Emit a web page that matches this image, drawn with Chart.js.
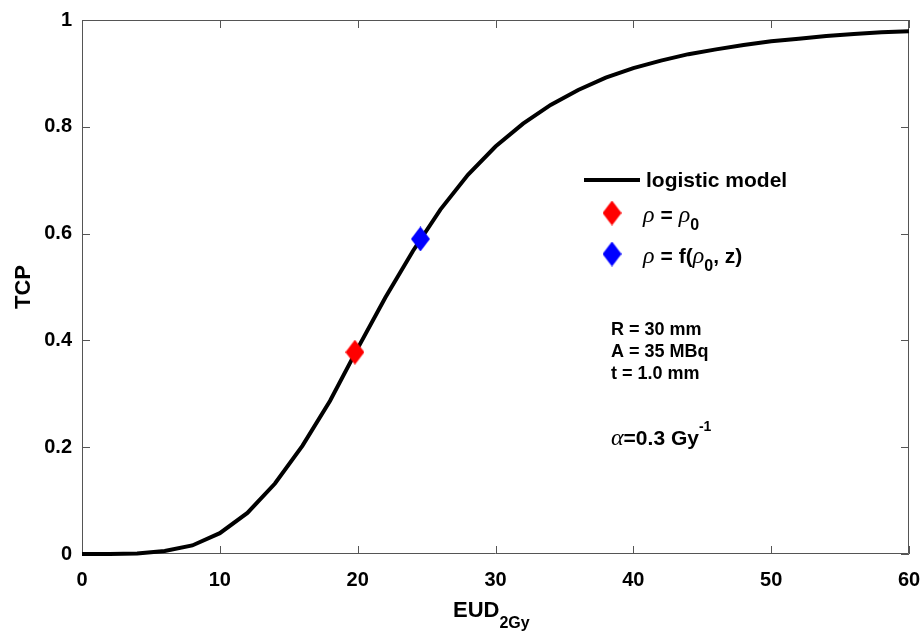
<!DOCTYPE html>
<html>
<head>
<meta charset="utf-8">
<script src="https://cdn.jsdelivr.net/npm/chart.js@4"></script>
<style>
body { margin: 0; background: #fff; }
#wrap { width: 923px; height: 631px; }
</style>
</head>
<body>
<div id="wrap"><canvas id="tcpChart" width="923" height="631"></canvas></div>
<script>
// logistic model curve
var eud = [0, 2, 4, 6, 8, 10, 12, 14, 16, 18, 20, 22, 24, 26, 28, 30, 32, 34, 36, 38, 40, 42, 44, 46, 48, 50, 52, 54, 56, 58, 60];
var tcp = [0, 0.0001, 0.0011, 0.0055, 0.016, 0.039, 0.077, 0.132, 0.203, 0.287, 0.385, 0.480, 0.567, 0.645, 0.710, 0.763, 0.806, 0.841, 0.869, 0.892, 0.910, 0.924, 0.936, 0.945, 0.953, 0.960, 0.965, 0.970, 0.974, 0.977, 0.979];

// the two marked points
var rho0X = [19.8];
var rho0Y = [0.378];
var rhoFX = [24.55];
var rhoFY = [0.590];

var xTicks = [0, 10, 20, 30, 40, 50, 60];
var yTicks = [0, 0.2, 0.4, 0.6, 0.8, 1];

var FONT = '"Liberation Sans", Arial, sans-serif';
var GREEK = '"Liberation Serif", "Times New Roman", serif';

function makeDiamond(color, w, h) {
	var c = document.createElement('canvas');
	c.width = w;
	c.height = h;
	var g = c.getContext('2d');
	g.fillStyle = color;
	g.beginPath();
	g.moveTo(w / 2, 0);
	g.lineTo(w, h / 2);
	g.lineTo(w / 2, h);
	g.lineTo(0, h / 2);
	g.closePath();
	g.fill();
	return c;
}

var redDiamond = makeDiamond('#ff0000', 19, 25);
var blueDiamond = makeDiamond('#0000ff', 19, 25);

// draws pieces of text one after another, returns the x where it ended
function drawRun(ctx, x, baseline, parts) {
	for (var i = 0; i < parts.length; i++) {
		var p = parts[i];
		ctx.font = p.font;
		ctx.fillText(p.t, x, baseline + (p.dy || 0));
		x += ctx.measureText(p.t).width + (p.gap || 0);
	}
	return x;
}

var boxPlugin = {
	id: 'boxPlugin',
	beforeDatasetsDraw: function(chart) {
		var ctx = chart.ctx;
		var ca = chart.chartArea;
		var xs = chart.scales.x;
		var ys = chart.scales.y;
		var len = 8;
		ctx.save();
		ctx.strokeStyle = '#555';
		ctx.lineWidth = 1;
		ctx.beginPath();
		ctx.rect(ca.left + 0.5, ca.top + 0.5, ca.right - ca.left - 1, ca.bottom - ca.top - 1);
		ctx.stroke();
		ctx.beginPath();
		xs.ticks.forEach(function(t) {
			var px = Math.round(xs.getPixelForValue(t.value)) + 0.5;
			ctx.moveTo(px, ca.bottom);
			ctx.lineTo(px, ca.bottom - len);
			ctx.moveTo(px, ca.top);
			ctx.lineTo(px, ca.top + len);
		});
		ys.ticks.forEach(function(t) {
			var py = Math.round(ys.getPixelForValue(t.value)) + 0.5;
			ctx.moveTo(ca.left, py);
			ctx.lineTo(ca.left + len, py);
			ctx.moveTo(ca.right, py);
			ctx.lineTo(ca.right - len, py);
		});
		ctx.stroke();
		ctx.restore();
	},
	afterDraw: function(chart) {
		var ctx = chart.ctx;
		var ca = chart.chartArea;
		ctx.save();
		ctx.fillStyle = '#000';
		ctx.textBaseline = 'alphabetic';
		ctx.textAlign = 'left';

		// axis titles
		drawRun(ctx, 453, 617, [
			{ t: 'EUD', font: 'bold 22px ' + FONT },
			{ t: '2Gy', font: 'bold 16px ' + FONT, dy: 11 }
		]);
		ctx.save();
		ctx.translate(30, (ca.top + ca.bottom) / 2);
		ctx.rotate(-Math.PI / 2);
		ctx.textAlign = 'center';
		ctx.font = 'bold 22px ' + FONT;
		ctx.fillText('TCP', 0, 0);
		ctx.restore();

		// legend
		ctx.strokeStyle = '#000';
		ctx.lineWidth = 4;
		ctx.beginPath();
		ctx.moveTo(584, 180);
		ctx.lineTo(640, 180);
		ctx.stroke();
		drawRun(ctx, 646, 187, [{ t: 'logistic model', font: 'bold 21px ' + FONT }]);

		ctx.drawImage(redDiamond, 612 - 9.5, 213 - 12.5);
		drawRun(ctx, 643, 222, [
			{ t: '\u03c1', font: 'italic 24px ' + GREEK, gap: 6 },
			{ t: '=', font: 'bold 21px ' + FONT, gap: 6 },
			{ t: '\u03c1', font: 'italic 24px ' + GREEK },
			{ t: '0', font: 'bold 16px ' + FONT, dy: 8 }
		]);

		ctx.drawImage(blueDiamond, 612 - 9.5, 254 - 12.5);
		drawRun(ctx, 643, 263, [
			{ t: '\u03c1', font: 'italic 24px ' + GREEK, gap: 6 },
			{ t: '=', font: 'bold 21px ' + FONT, gap: 6 },
			{ t: 'f(', font: 'bold 21px ' + FONT },
			{ t: '\u03c1', font: 'italic 24px ' + GREEK },
			{ t: '0', font: 'bold 16px ' + FONT, dy: 8 },
			{ t: ', z)', font: 'bold 21px ' + FONT }
		]);

		// parameters
		ctx.font = 'bold 18px ' + FONT;
		ctx.fillText('R = 30 mm', 611, 335);
		ctx.fillText('A = 35 MBq', 611, 357);
		ctx.fillText('t = 1.0 mm', 611, 379);

		drawRun(ctx, 611, 445, [
			{ t: '\u03b1', font: 'italic 24px ' + GREEK },
			{ t: '=0.3 Gy', font: 'bold 21px ' + FONT },
			{ t: '-1', font: 'bold 14px ' + FONT, dy: -14 }
		]);
		ctx.restore();
	}
};

var curveData = eud.map(function(v, i) { return { x: v, y: tcp[i] }; });
var rho0Data = rho0X.map(function(v, i) { return { x: v, y: rho0Y[i] }; });
var rhoFData = rhoFX.map(function(v, i) { return { x: v, y: rhoFY[i] }; });

new Chart(document.getElementById('tcpChart'), {
	type: 'line',
	data: {
		datasets: [{
			label: 'logistic model',
			data: curveData,
			borderColor: '#000',
			borderWidth: 4,
			pointRadius: 0,
			tension: 0,
			fill: false,
			clip: false,
			order: 3
		},
		{
			type: 'scatter',
			label: 'rho = rho0',
			data: rho0Data,
			pointStyle: redDiamond,
			clip: false,
			order: 1
		},
		{
			type: 'scatter',
			label: 'rho = f(rho0, z)',
			data: rhoFData,
			pointStyle: blueDiamond,
			clip: false,
			order: 2
		}]
	},
	options: {
		responsive: false,
		animation: false,
		events: [],
		layout: { padding: { top: 20, right: 14, left: 0, bottom: 0 } },
		plugins: {
			legend: { display: false },
			tooltip: { enabled: false }
		},
		scales: {
			x: {
				type: 'linear',
				min: 0,
				max: 60,
				afterBuildTicks: function(s) { s.ticks = xTicks.map(function(v) { return { value: v }; }); },
				ticks: {
					color: '#000',
					font: { family: FONT, size: 20, weight: 'bold' },
					padding: 14,
					maxRotation: 0,
					callback: function(v) { return String(v); }
				},
				grid: { display: false, drawTicks: false },
				border: { display: false },
				afterFit: function(s) {
					s.height = 77;
					s.paddingLeft = 0;
					s.paddingRight = 0;
				}
			},
			y: {
				type: 'linear',
				min: 0,
				max: 1,
				afterBuildTicks: function(s) { s.ticks = yTicks.map(function(v) { return { value: v }; }); },
				ticks: {
					color: '#000',
					font: { family: FONT, size: 20, weight: 'bold' },
					padding: 10,
					callback: function(v) { return String(v); }
				},
				grid: { display: false, drawTicks: false },
				border: { display: false },
				afterFit: function(s) {
					s.width = 82;
					s.paddingTop = 0;
					s.paddingBottom = 0;
				}
			}
		}
	},
	plugins: [boxPlugin]
});
</script>
</body>
</html>
